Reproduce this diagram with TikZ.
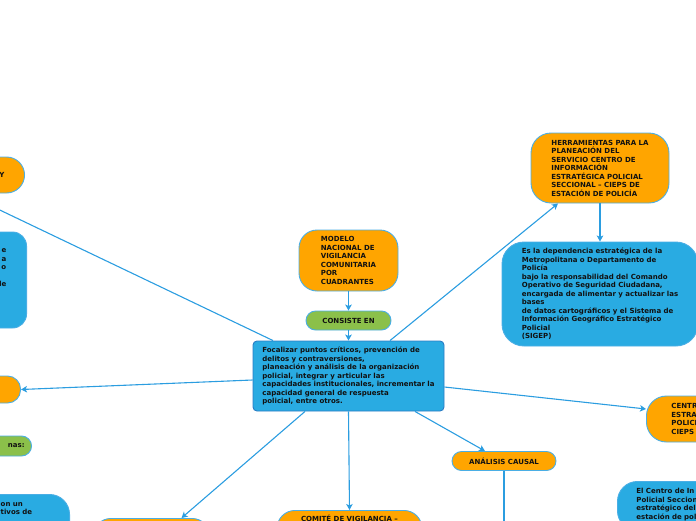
\documentclass[tikz,border=0pt]{standalone}
\usepackage{fontspec}
\setmainfont{DejaVu Sans}
\usetikzlibrary{arrows.meta,calc}
\definecolor{ink}{HTML}{111111}
\definecolor{orangefill}{HTML}{FFA500}
\definecolor{bluefill}{HTML}{29ABE2}
\definecolor{greenfill}{HTML}{8BC04A}
\definecolor{edgeline}{HTML}{4AAEE5}
\definecolor{centreline}{HTML}{2A7CC4}
\definecolor{wire}{HTML}{2B9DE0}
\newcommand{\mapfont}{\fontsize{7}{8.5}\selectfont\bfseries}
\tikzset{
 every node/.append style={font=\mapfont,text=ink,align=left},
 box/.style={draw=edgeline,line width=.9pt,inner sep=0pt},
 topic/.style={box,fill=orangefill},
 note/.style={box,fill=bluefill},
 joint/.style={box,fill=greenfill},
 frag/.style={inner sep=0pt},
 flow/.style={-{Stealth[length=6pt,width=6.5pt,inset=1.5pt]},draw=wire,line width=1.1pt},
 route/.style={draw=wire,line width=1.1pt},
}

\begin{document}
\begin{tikzpicture}[x=1pt,y=-1pt]

\useasboundingbox (0,0) rectangle (696,520);
\clip (0,0) rectangle (696,520);
\node[topic,rounded corners=18pt,minimum width=99pt,minimum height=61pt] (modelo) at (348.5,260.5) {MODELO\\NACIONAL DE\\VIGILANCIA\\COMUNITARIA\\POR\\CUADRANTES};
\node[joint,rounded corners=9.5pt,minimum width=85pt,minimum height=19pt] (consiste) at (348.5,320.5) {CONSISTE EN};
\node[note,draw=centreline,rounded corners=4pt,minimum width=191pt,minimum height=70pt] (central) at (348.5,376) {Focalizar puntos críticos, prevención de\\delitos y contraversiones,\\planeación y análisis de la organización\\policial, integrar y articular las\\capacidades institucionales, incrementar la\\capacidad general de respuesta\\policial, entre otros.};
\draw[flow] (modelo) -- (consiste); \draw[flow] (consiste) -- (central);
\node[topic,rounded corners=20pt,minimum width=138pt,minimum height=70pt] (herram) at (600,168) {HERRAMIENTAS PARA LA\\PLANEACIÓN DEL\\SERVICIO CENTRO DE\\INFORMACIÓN\\ESTRATÉGICA POLICIAL\\SECCIONAL – CIEPS DE\\ESTACIÓN DE POLICÍA};
\node[note,rounded corners=22pt,minimum width=196pt,minimum height=104pt] (esla) at (600,294) {Es la dependencia estratégica de la\\Metropolitana o Departamento de\\Policía\\bajo la responsabilidad del Comando\\Operativo de Seguridad Ciudadana,\\encargada de alimentar y actualizar las\\bases\\de datos cartográficos y el Sistema de\\Información Geográfico Estratégico\\Policial\\(SIGEP)};
\draw[flow] ([xshift=41.5pt]central.north) -- ([xshift=-42pt]herram.south); \draw[flow] (herram) -- (esla);
\node[topic,rounded corners=20pt,anchor=west,inner xsep=25pt,text width=80pt,minimum height=46pt] (centro) at (646,419) {CENTR\\ESTRA\\POLICI\\CIEPS};
\draw[flow] ([yshift=-11pt]central.east) -- ([yshift=10pt]centro.west);
\node[topic,rounded corners=9.5pt,minimum width=104pt,minimum height=19pt] (analisis) at (504,461) {ANÁLISIS CAUSAL};
\coordinate (causalend) at (504,540);
\draw[flow] ([xshift=66.5pt]central.south) -- ([xshift=-19pt]analisis.north); \draw[route] (analisis) -- (causalend);
\node[note,rounded corners=20pt,anchor=north west,inner xsep=19pt,inner ysep=7pt,text width=100pt,text depth=30pt] (elcentro) at (617,481) {El Centro de In\\Policial Seccion\\estratégico del\\estación de pol};
\node[topic,rounded corners=18pt,anchor=north,minimum width=145pt,inner ysep=4.5pt,text depth=30pt] (comite) at (349.5,510) {COMITÉ DE VIGILANCIA –};
\node[topic,rounded corners=18pt,anchor=north,minimum width=117pt,minimum height=40pt] (corner) at (151.5,518) {};
\draw[flow] (central.south) -- (comite.north); \draw[flow] ([xshift=-43.5pt]central.south) -- ([xshift=30pt]corner.north);
% cut off on the left
\node[topic,rounded corners=18pt,anchor=east,minimum width=80pt,minimum height=36pt,inner xsep=19pt,text width=40pt,align=right] (yleft) at (25,175) {Y};
\node[note,rounded corners=14pt,anchor=east,minimum width=100pt,minimum height=96pt] (leftnote) at (27,280) {};
\node[frag,anchor=north east,align=right] (leftnotetext) at (6.5,248.8) {e\\a\\o\\[8.5pt]de};
\node[topic,rounded corners=13pt,anchor=east,minimum width=80pt,minimum height=27pt] (leftorange) at (21,389.5) {};
\node[joint,rounded corners=10pt,anchor=east,minimum width=60pt,minimum height=20pt,inner xsep=7pt,text width=46pt,align=right] (nas) at (32,446) {nas:};
\node[note,rounded corners=20pt,anchor=north east,minimum width=120pt,minimum height=60pt] (leftbottom) at (70,494) {};
\node[frag,anchor=north west] (leftbottomtext) at (0.5,502) {on un\\tivos de};
\coordinate (farleft) at (-40,191);
\draw[flow] ([yshift=-4pt]central.west) -- (leftorange.east); \draw[route] ([xshift=-75.5pt]central.north) -- (farleft);

\end{tikzpicture}
\end{document}
